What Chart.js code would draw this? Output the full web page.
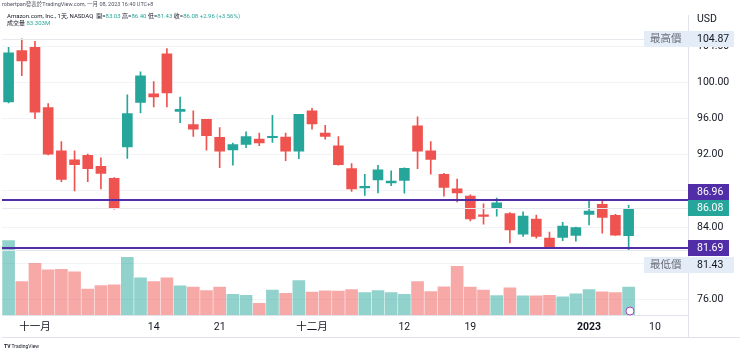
<!DOCTYPE html>
<html>
<head>
<meta charset="utf-8">
<script src="https://cdn.jsdelivr.net/npm/chart.js@4"></script>
<style>
  html, body { margin: 0; padding: 0; background: #fff; }
  #wrap { position: relative; width: 740px; height: 353px; font-family: Roboto, "Noto Sans CJK TC", sans-serif; }
  #wrap canvas { position: absolute; left: 0; top: 0; }
  .txt { position: absolute; white-space: nowrap; color: #131722; line-height: 1; }
  .up { color: #26a69a; }
</style>
</head>
<body>
<div id="wrap">
  <canvas id="priceChart" width="740" height="353"></canvas>
  <div class="txt" style="left:2px;top:2px;font-size:5.5px;color:#50535e">robertpan發表於TradingView.com, 一月 08, 2023 16:40 UTC+8</div>
  <div class="txt" style="left:7px;top:13px;font-size:6px">Amazon.com, Inc., 1天, NASDAQ &nbsp;開=<span class="up">83.03</span> 高=<span class="up">86.40</span> 低=<span class="up">81.43</span> 收=<span class="up">86.08</span> <span class="up">+2.96 (+3.56%)</span></div>
  <div class="txt" style="left:7px;top:20px;font-size:6px">成交量 <span class="up">83.303M</span></div>
  <div class="txt" style="left:4px;top:344px;font-size:5px;color:#131722"><b>TV</b> TradingView</div>
</div>
<script>
// trading days shown (last four are empty future slots)
const days = [
  '2022-10-28','2022-10-31','2022-11-01','2022-11-02','2022-11-03','2022-11-04','2022-11-07','2022-11-08',
  '2022-11-09','2022-11-10','2022-11-11','2022-11-14','2022-11-15','2022-11-16','2022-11-17','2022-11-18',
  '2022-11-21','2022-11-22','2022-11-23','2022-11-25','2022-11-28','2022-11-29','2022-11-30','2022-12-01',
  '2022-12-02','2022-12-05','2022-12-06','2022-12-07','2022-12-08','2022-12-09','2022-12-12','2022-12-13',
  '2022-12-14','2022-12-15','2022-12-16','2022-12-19','2022-12-20','2022-12-21','2022-12-22','2022-12-23',
  '2022-12-27','2022-12-28','2022-12-29','2022-12-30','2023-01-03','2023-01-04','2023-01-05','2023-01-06',
  '2023-01-09','2023-01-10','2023-01-11','2023-01-12'
];

const open = [97.86,103.57,103.93,97.24,92.45,91.46,91.94,90.74,89.39,92.88,97.82,98.77,103.20,96.81,95.35,95.93,
  93.94,92.55,93.17,93.75,93.90,93.97,92.41,96.88,94.41,92.99,90.48,88.34,89.21,88.90,89.18,95.21,
  92.45,89.83,88.23,87.43,85.28,86.12,85.50,83.22,84.89,82.78,82.85,83.07,85.40,86.52,85.29,83.03];
const high = [103.93,104.87,104.58,97.68,93.46,92.45,92.10,91.68,89.47,98.66,101.20,100.11,103.78,98.41,96.88,95.95,
  95.03,93.32,94.55,94.41,96.37,94.41,96.50,97.17,95.28,94.04,91.03,89.83,90.85,90.23,90.55,96.22,
  93.46,89.95,89.32,87.58,86.56,87.21,85.60,85.69,85.32,83.43,84.52,84.00,86.96,86.90,85.40,86.40];
const low = [97.75,100.77,96.01,92.00,89.03,88.01,89.03,88.23,85.98,91.61,96.66,97.32,97.32,95.57,94.04,92.52,
  90.59,90.85,92.81,93.03,93.39,91.36,91.57,94.84,93.75,90.85,87.94,87.50,87.79,88.59,87.76,90.48,
  89.87,87.43,86.78,84.67,84.31,85.21,82.23,82.96,82.78,81.69,82.49,82.42,84.23,83.32,83.07,81.43];
const close = [103.31,102.40,96.73,92.08,89.28,90.92,90.48,89.94,86.12,96.59,100.77,98.41,98.88,97.05,94.84,94.12,
  92.41,93.14,94.04,93.32,93.98,92.41,96.48,95.43,94.04,90.92,88.23,88.46,90.34,89.09,90.52,92.41,
  91.50,88.38,87.79,84.89,85.19,86.67,83.69,85.21,82.96,81.76,84.12,83.94,85.76,85.07,83.10,86.08];
// volume in millions
const volume = [222,100,154,135,136,129,77,88,90,172,111,100,111,87,83,73,
  83,62,59,35,74,65,103,68,72,71,76,67,73,67,62,100,
  70,84,145,83,74,58,81,57,57,59,54,63,76,69,67,83.3];

const tickDays = ['2022-11-01','2022-11-14','2022-11-21','2022-12-01','2022-12-12','2022-12-19','2023-01-03','2023-01-10'];
const tickTexts = ['十一月','14','21','十二月','12','19','2023','10'];
const priceTicks = [76, 80, 84, 88, 92, 96, 100, 104];

const levelLines = [86.96, 81.69];
const highest = 104.87;
const lowest = 81.43;
const lastClose = 86.08;

const UP = '#26a69a', DOWN = '#ef5350';
const UP_VOL = 'rgba(38,166,154,0.5)', DOWN_VOL = 'rgba(239,83,80,0.5)';
const PURPLE = '#512da8';
const FONT = 'Roboto, "Noto Sans CJK TC", sans-serif';

const candleColor = open.map((o, i) => close[i] >= o ? UP : DOWN);
const volColor = open.map((o, i) => close[i] >= o ? UP_VOL : DOWN_VOL);

function tag(ctx, x, yc, w, bg, parts) {
  ctx.fillStyle = bg;
  ctx.fillRect(x, Math.round(yc - 8), w, 16);
  ctx.textBaseline = 'middle';
  ctx.textAlign = 'left';
  ctx.font = '10.5px ' + FONT;
  parts.forEach(p => {
    ctx.fillStyle = p.color;
    ctx.fillText(p.text, p.x, yc + 0.5);
  });
}

const overlay = {
  id: 'overlay',
  afterDatasetsDraw(chart) {
    const { ctx, chartArea: a, scales: { y } } = chart;
    ctx.save();
    ctx.lineWidth = 1;
    ctx.strokeStyle = '#e6e8ee';
    [highest, lastClose, lowest].forEach(v => {
      const py = Math.round(y.getPixelForValue(v)) + 0.5;
      ctx.beginPath(); ctx.moveTo(a.left, py); ctx.lineTo(a.right, py); ctx.stroke();
    });
    ctx.lineWidth = 2;
    ctx.strokeStyle = PURPLE;
    levelLines.forEach(v => {
      const py = Math.round(y.getPixelForValue(v));
      ctx.beginPath(); ctx.moveTo(a.left, py); ctx.lineTo(a.right, py); ctx.stroke();
    });
    // event marker
    ctx.lineWidth = 1;
    ctx.strokeStyle = '#ab47bc';
    ctx.fillStyle = '#fff';
    ctx.beginPath(); ctx.arc(630, 311, 4, 0, Math.PI * 2); ctx.fill(); ctx.stroke();
    ctx.restore();
  },
  afterDraw(chart) {
    const { ctx, chartArea: a, scales: { y } } = chart;
    ctx.save();
    // frame of the time axis row
    ctx.strokeStyle = '#e0e3eb';
    ctx.lineWidth = 1;
    ctx.beginPath();
    ctx.moveTo(a.right + 0.5, a.bottom); ctx.lineTo(a.right + 0.5, 337.5);
    ctx.moveTo(a.left, 337.5); ctx.lineTo(740, 337.5);
    ctx.stroke();

    const ax = a.right, tx = a.right + 9;
    ctx.fillStyle = '#131722';
    ctx.font = '10.5px ' + FONT;
    ctx.textBaseline = 'middle';
    ctx.fillText('USD', tx, 19);

    const yLast = y.getPixelForValue(lastClose);
    const yTop = Math.min(y.getPixelForValue(levelLines[0]), yLast - 16);
    const yLow = y.getPixelForValue(levelLines[1]);
    const yMin = Math.max(y.getPixelForValue(lowest), yLow + 17);

    tag(ctx, 644, y.getPixelForValue(highest), 90, '#e3ecf7',
      [{ text: '最高價', x: 650, color: '#6a6d78' }, { text: highest.toFixed(2), x: tx, color: '#131722' }]);
    tag(ctx, ax, yTop, 41, PURPLE, [{ text: levelLines[0].toFixed(2), x: tx, color: '#fff' }]);
    tag(ctx, ax, yLast, 41, UP, [{ text: lastClose.toFixed(2), x: tx, color: '#fff' }]);
    tag(ctx, ax, yLow, 41, PURPLE, [{ text: levelLines[1].toFixed(2), x: tx, color: '#fff' }]);
    tag(ctx, 644, yMin, 90, '#e3ecf7',
      [{ text: '最低價', x: 650, color: '#6a6d78' }, { text: lowest.toFixed(2), x: tx, color: '#131722' }]);
    ctx.restore();
  }
};

new Chart(document.getElementById('priceChart'), {
  type: 'bar',
  data: {
    labels: days,
    datasets: [
      {
        label: 'body',
        data: open.map((o, i) => [o, close[i]]),
        backgroundColor: candleColor,
        yAxisID: 'y',
        grouped: false,
        barThickness: 10,
        minBarLength: 1.5,
        order: 0
      },
      {
        label: 'wick',
        data: low.map((l, i) => [l, high[i]]),
        backgroundColor: candleColor,
        yAxisID: 'y',
        grouped: false,
        barThickness: 1,
        order: 1
      },
      {
        label: 'volume',
        data: volume,
        backgroundColor: volColor,
        yAxisID: 'yv',
        grouped: false,
        barThickness: 12,
        order: 2
      }
    ]
  },
  options: {
    responsive: false,
    animation: false,
    devicePixelRatio: 1,
    layout: { padding: { left: 2, top: 10, right: 0, bottom: 0 } },
    plugins: { legend: { display: false }, tooltip: { enabled: false } },
    scales: {
      x: {
        offset: true,
        border: { display: true, color: '#e0e3eb' },
        grid: {
          offset: false,
          drawTicks: false,
          color: ctx => (ctx.tick && tickDays.includes(ctx.tick.label)) ? '#f1f3f7' : 'rgba(0,0,0,0)'
        },
        ticks: {
          autoSkip: false,
          maxRotation: 0,
          padding: 6,
          color: '#131722',
          font: ctx => ({ family: FONT, size: 10.5, weight: (ctx.tick && ctx.tick.label === '2023') ? 'bold' : 'normal' }),
          callback: (v, i) => {
            const k = tickDays.indexOf(days[i]);
            return k >= 0 ? tickTexts[k] : '';
          }
        },
        afterFit: s => { s.height = 38; }
      },
      y: {
        position: 'right',
        min: 74.25,
        max: 107.47,
        border: { display: true, color: '#e0e3eb' },
        grid: { color: '#f2f3f7', drawTicks: false },
        afterBuildTicks: s => { s.ticks = priceTicks.map(v => ({ value: v })); },
        ticks: {
          padding: 9,
          color: '#131722',
          font: { family: FONT, size: 10.5 },
          callback: v => Number(v).toFixed(2)
        },
        afterFit: s => { s.width = 52; }
      },
      yv: {
        display: false,
        min: 0,
        max: 894
      }
    }
  },
  plugins: [overlay]
});
</script>
</body>
</html>
